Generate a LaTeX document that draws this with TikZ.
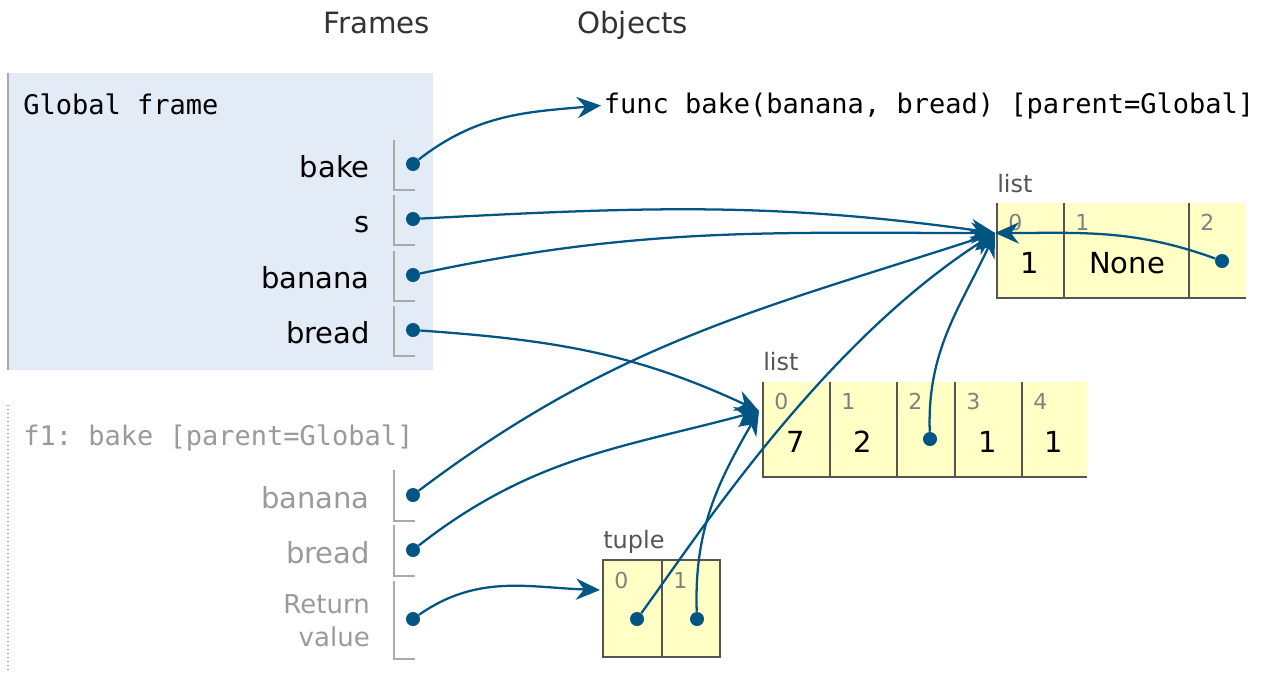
\documentclass[tikz,border=0pt]{standalone}
\usepackage{fontspec}
\setmainfont{DejaVu Sans}
\setmonofont{DejaVu Sans Mono}
\usetikzlibrary{arrows.meta}

\definecolor{ptblue}{HTML}{005583}
\definecolor{framebg}{HTML}{E2EBF6}
\definecolor{heapbg}{HTML}{FFFFC6}
\definecolor{cellline}{HTML}{555555}
\definecolor{bracketcol}{HTML}{AAAAAA}
\definecolor{headcol}{HTML}{333333}
\definecolor{typecol}{HTML}{555555}
\definecolor{idxcol}{HTML}{808080}
\definecolor{fadedtxt}{HTML}{9A9A9A}

\tikzset{
  heading/.style={anchor=base west, inner sep=0pt, text=headcol, font=\fontsize{22}{26}\selectfont},
  monotitle/.style={anchor=base west, inner sep=0pt, font=\ttfamily\fontsize{20.25}{24}\selectfont},
  varname/.style={anchor=base east, inner sep=0pt, font=\fontsize{21.75}{26}\selectfont},
  bracket/.style={draw=bracketcol, line width=1.2pt},
  dot/.style={circle, fill=ptblue, inner sep=0pt, minimum size=10.5pt},
  ptr/.style={ptblue, line width=1.7pt, arrows={-Stealth[length=18pt,width=16pt,inset=6pt]}},
  typename/.style={anchor=base west, inner sep=0pt, text=typecol, font=\fontsize{18}{22}\selectfont},
  idx/.style={anchor=base west, inner sep=0pt, text=idxcol, font=\fontsize{16.5}{20}\selectfont},
  val/.style={anchor=base, inner sep=0pt, font=\fontsize{21.75}{26}\selectfont},
  cell/.style={draw=cellline, line width=1.5pt},
}

\begin{document}
\begin{tikzpicture}[x=0.75pt,y=-0.75pt]
    \useasboundingbox (0,0) rectangle (1272,672);

    \node[heading] (frames) at (323,33) {Frames};
    \node[heading] (objects) at (577,33) {Objects};

    % global frame
    \fill[framebg] (8,73) rectangle (433,370);
    \draw[bracketcol, line width=2pt] (8,73) -- (8,370);
    \node[monotitle] (gtitle) at (23,114) {Global frame};
    \foreach \nm/\y in {bake/164,s/219,banana/275,bread/330} {
        \node[varname] (g\nm) at (370,\y+13) {\nm};
        \draw[bracket] (394,\y-24) -- (394,\y+26) -- (415,\y+26);
        \node[dot] (gd\nm) at (413,\y) {};
    }

    % frame f1
    \draw[bracketcol, dotted, line width=1pt] (8,405) -- (8,672);
    \node[monotitle, text=fadedtxt] (ftitle) at (23,445) {f1: bake [parent=Global]};
    \foreach \nm/\y in {banana/495,bread/550} {
        \node[varname, text=fadedtxt] (f\nm) at (370,\y+13) {\nm};
        \draw[bracket] (394,\y-25) -- (394,\y+26) -- (415,\y+26);
        \node[dot] (fd\nm) at (413,\y) {};
    }
    \node[anchor=east, align=right, inner sep=0pt, text=fadedtxt,
          font=\fontsize{19.5}{24.75}\selectfont] (fret) at (370,621) {Return\\value};
    \draw[bracket] (394,581) -- (394,659) -- (415,659);
    \node[dot] (fdret) at (413,619) {};

    % objects
    \node[monotitle, inner sep=2pt, anchor=base west] (func) at (601,113) {func bake(banana, bread) [parent=Global]};

    \node[typename] (lst1) at (997,192) {list};
    \foreach \a/\b/\i in {997/1064/0,1064/1189/1,1189/1246/2} {
        \fill[heapbg] (\a,203) rectangle (\b,298);
        \draw[cell] (\a,203) -- (\a,298) -- (\b,298);
        \node[idx] (l1i\i) at (\a+11,230) {\i};
    }
    \node[val] (l1v0) at (1030,273) {1};
    \node[val] (l1v1) at (1127,273) {None};
    \node[dot] (l1d2) at (1222,261) {};
    \coordinate (lst1in) at (995,233);

    \node[typename] (lst2) at (763,370) {list};
    \foreach \a/\b/\i in {763/830/0,830/897/1,897/955/2,955/1022/3,1022/1087/4} {
        \fill[heapbg] (\a,382) rectangle (\b,477);
        \draw[cell] (\a,382) -- (\a,477) -- (\b,477);
        \node[idx] (l2i\i) at (\a+11,409) {\i};
    }
    \node[val] (l2v0) at (796,452) {7};
    \node[val] (l2v1) at (863,452) {2};
    \node[dot] (l2d2) at (930,439) {};
    \node[val] (l2v3) at (988,452) {1};
    \node[val] (l2v4) at (1054,452) {1};
    \coordinate (lst2in) at (759,411);

    \node[typename] (tup) at (603,548) {tuple};
    \fill[heapbg] (603,560) rectangle (720,657);
    \draw[cell] (603,560) rectangle (720,657);
    \draw[cell] (662,560) -- (662,657);
    \node[idx] (tpi0) at (614,588) {0};
    \node[idx] (tpi1) at (673,588) {1};
    \node[dot] (tpd0) at (637,619) {};
    \node[dot] (tpd1) at (697,619) {};
    \coordinate (tupin) at (600,590);

    % pointers
    \draw[ptr] (gdbake) to[out=38,in=185] (func.west);
    \draw[ptr] (gds) to[out=3,in=172] (lst1in);
    \draw[ptr] (gdbanana) to[out=12,in=180] (lst1in);
    \draw[ptr] (gdbread) to[out=-4,in=155] (lst2in);
    \draw[ptr] (fdbanana) to[out=37,in=198] (lst1in);
    \draw[ptr] (fdbread) to[out=38,in=195] (lst2in);
    \draw[ptr] (fdret) to[out=35,in=178] (tupin);
    \draw[ptr] (tpd0) .. controls (695,540) and (820,345) .. (lst1in);
    \draw[ptr] (tpd1) to[out=92,in=240] (lst2in);
    \draw[ptr] (l2d2) to[out=92,in=245] (lst1in);
    \draw[ptr] (l1d2) to[out=160,in=0] (lst1in);
\end{tikzpicture}
\end{document}
